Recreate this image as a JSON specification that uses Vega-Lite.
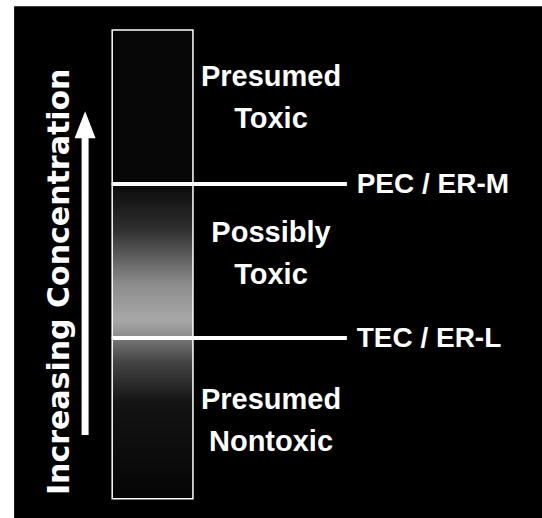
{
  "$schema": "https://vega.github.io/schema/vega-lite/v6.json",
  "width": 542,
  "height": 518,
  "autosize": {"type": "fit", "contains": "padding"},
  "padding": 0,
  "background": "#ffffff",
  "config": {"view": {"stroke": null}},
  "datasets": {
    "zones": [
      {"zone": "Presumed Nontoxic", "label": "Presumed\nNontoxic", "lower": 3.7, "upper": 34.75, "labelAt": 22.8},
      {"zone": "Possibly Toxic", "label": "Possibly\nToxic", "lower": 34.75, "upper": 64.5, "labelAt": 55.0},
      {"zone": "Presumed Toxic", "label": "Presumed\nToxic", "lower": 64.5, "upper": 94.2, "labelAt": 85.1}
    ],
    "thresholds": [
      {"name": "TEC / ER-L", "level": 34.75},
      {"name": "PEC / ER-M", "level": 64.5}
    ],
    "arrow": [
      {"name": "Increasing Concentration", "from": 16.0, "to": 73.4, "head": 75.9, "titleAt": 45.6}
    ]
  },
  "layer": [
    {
      "data": {"values": [{"panel": "diagram"}]},
      "mark": {"type": "rect", "color": "#000000"},
      "encoding": {
        "x": {"datum": 2.6, "type": "quantitative", "scale": {"domain": [0, 100], "nice": false, "zero": false}, "axis": null},
        "x2": {"datum": 100},
        "y": {"datum": 0, "type": "quantitative", "scale": {"domain": [0, 100], "nice": false, "zero": false}, "axis": null},
        "y2": {"datum": 98.8}
      }
    },
    {
      "data": {"name": "zones"},
      "transform": [{"filter": "datum.zone === 'Presumed Toxic'"}],
      "mark": {"type": "rect", "fill": "#070707", "stroke": "#ffffff", "strokeWidth": 1.5},
      "encoding": {
        "x": {"datum": 20.7, "type": "quantitative"},
        "x2": {"datum": 35.6},
        "y": {"field": "lower", "type": "quantitative"},
        "y2": {"field": "upper"}
      }
    },
    {
      "data": {"name": "zones"},
      "transform": [{"filter": "datum.zone === 'Possibly Toxic'"}],
      "mark": {
        "type": "rect",
        "stroke": "#ffffff",
        "strokeWidth": 1.5,
        "fill": {
          "gradient": "linear", "x1": 0, "y1": 0, "x2": 0, "y2": 1,
          "stops": [
            {"offset": 0, "color": "#0a0a0a"},
            {"offset": 0.3, "color": "#303030"},
            {"offset": 0.65, "color": "#8c8c8c"},
            {"offset": 0.88, "color": "#a8a8a8"},
            {"offset": 1, "color": "#8a8a8a"}
          ]
        }
      },
      "encoding": {
        "x": {"datum": 20.7, "type": "quantitative"},
        "x2": {"datum": 35.6},
        "y": {"field": "lower", "type": "quantitative"},
        "y2": {"field": "upper"}
      }
    },
    {
      "data": {"name": "zones"},
      "transform": [{"filter": "datum.zone === 'Presumed Nontoxic'"}],
      "mark": {
        "type": "rect",
        "stroke": "#ffffff",
        "strokeWidth": 1.5,
        "fill": {
          "gradient": "linear", "x1": 0, "y1": 0, "x2": 0, "y2": 1,
          "stops": [
            {"offset": 0, "color": "#777777"},
            {"offset": 0.15, "color": "#444444"},
            {"offset": 0.4, "color": "#141414"},
            {"offset": 1, "color": "#050505"}
          ]
        }
      },
      "encoding": {
        "x": {"datum": 20.7, "type": "quantitative"},
        "x2": {"datum": 35.6},
        "y": {"field": "lower", "type": "quantitative"},
        "y2": {"field": "upper"}
      }
    },
    {
      "data": {"name": "thresholds"},
      "mark": {"type": "rule", "color": "#ffffff", "strokeWidth": 4},
      "encoding": {
        "x": {"datum": 20.7, "type": "quantitative"},
        "x2": {"datum": 64.0},
        "y": {"field": "level", "type": "quantitative"}
      }
    },
    {
      "data": {"name": "thresholds"},
      "mark": {"type": "text", "color": "#ffffff", "font": "Liberation Sans", "fontWeight": "bold", "fontSize": 28, "align": "left", "baseline": "middle", "dy": 1},
      "encoding": {
        "x": {"datum": 65.8, "type": "quantitative"},
        "y": {"field": "level", "type": "quantitative"},
        "text": {"field": "name"}
      }
    },
    {
      "data": {"name": "zones"},
      "mark": {"type": "text", "color": "#ffffff", "font": "Liberation Sans", "fontWeight": "bold", "fontSize": 29, "align": "center", "baseline": "middle", "lineBreak": "\n", "lineHeight": 42},
      "encoding": {
        "x": {"datum": 50.0, "type": "quantitative"},
        "y": {"field": "labelAt", "type": "quantitative"},
        "text": {"field": "label"}
      }
    },
    {
      "data": {"name": "arrow"},
      "mark": {"type": "rule", "color": "#ffffff", "strokeWidth": 7},
      "encoding": {
        "x": {"datum": 15.7, "type": "quantitative"},
        "y": {"field": "from", "type": "quantitative"},
        "y2": {"field": "to"}
      }
    },
    {
      "data": {"name": "arrow"},
      "mark": {"type": "point", "filled": true, "color": "#ffffff", "opacity": 1, "shape": "M-0.78,1L0.78,1L0,-1Z", "size": 729},
      "encoding": {
        "x": {"datum": 15.7, "type": "quantitative"},
        "y": {"field": "head", "type": "quantitative"}
      }
    },
    {
      "data": {"name": "arrow"},
      "mark": {"type": "text", "color": "#ffffff", "font": "DejaVu Sans", "fontWeight": "bold", "fontSize": 30, "align": "center", "baseline": "middle", "angle": 270},
      "encoding": {
        "x": {"datum": 11.1, "type": "quantitative"},
        "y": {"field": "titleAt", "type": "quantitative"},
        "text": {"field": "name"}
      }
    }
  ]
}
